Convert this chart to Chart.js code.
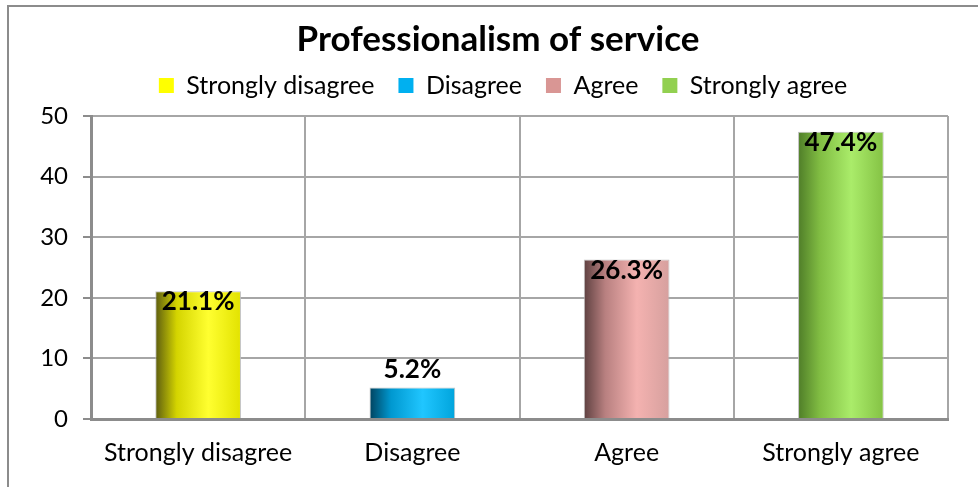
<!DOCTYPE html>
<html>
<head>
<meta charset="utf-8">
<script src="https://cdn.jsdelivr.net/npm/chart.js@4.4.1/dist/chart.umd.min.js"></script>
<style>
  html, body { margin: 0; padding: 0; background: #fff; }
  #wrap { width: 978px; height: 487px; position: relative; }
</style>
</head>
<body>
<div id="wrap"><canvas id="myChart"></canvas></div>
<script>
const categories = ['Strongly disagree', 'Disagree', 'Agree', 'Strongly agree'];
const values = [21.1, 5.2, 26.3, 47.4];
const valueLabels = ['21.1%', '5.2%', '26.3%', '47.4%'];
const yTicks = [0, 10, 20, 30, 40, 50];

// legend swatch colours, and the bar shading: dark left edge, mid, highlight, right edge
const legendColors = ['#ffff00', '#00b0f0', '#d99694', '#92d050'];
const shades = [
    ['#5c5c10', '#d4d400', '#ffff30', '#e2e200'],
    ['#00425e', '#0098d0', '#20c6ff', '#00a4dc'],
    ['#5e4040', '#b88080', '#f4b2b0', '#d6a09e'],
    ['#4f7d28', '#80bc42', '#aaec6a', '#84c244'],
];

const FONT = 'Lato, "Open Sans", sans-serif';

const barFill = (c) => {
    const chart = c.chart;
    const area = chart.chartArea;
    if (c.type !== 'data') return legendColors[0];
    if (!area || !chart.scales.x) return legendColors[c.dataIndex];
    const x = chart.scales.x.getPixelForValue(c.dataIndex);
    const half = (area.right - area.left) / categories.length * 0.4 / 2;
    const g = chart.ctx.createLinearGradient(x - half, 0, x + half, 0);
    const s = shades[c.dataIndex];
    g.addColorStop(0, s[0]);
    g.addColorStop(0.25, s[1]);
    g.addColorStop(0.62, s[2]);
    g.addColorStop(1, s[3]);
    return g;
};

const frame = {
    id: 'frame',
    beforeInit(chart) {
        // leave some room between the legend row and the plot
        const fit = chart.legend.fit;
        chart.legend.fit = function () {
            fit.bind(chart.legend)();
            this.height += 8;
        };
    },
    afterLayout(chart) {
        // title + legend are centred on the whole frame, not on the plot
        if (chart.titleBlock) chart.titleBlock.left += 48;
        if (chart.legend) chart.legend.left += 58;
    },
    beforeDraw(chart) {
        const ctx = chart.ctx;
        ctx.save();
        ctx.fillStyle = '#fff';
        ctx.fillRect(0, 0, chart.width, chart.height);
        ctx.strokeStyle = '#8c8c8c';
        ctx.lineWidth = 2;
        ctx.strokeRect(8, 6, chart.width + 20, chart.height + 20);
        ctx.restore();
    }
};

const valueTags = {
    id: 'valueTags',
    afterDatasetsDraw(chart) {
        const ctx = chart.ctx;
        const meta = chart.getDatasetMeta(0);
        ctx.save();
        ctx.font = 'bold 26px ' + FONT;
        ctx.fillStyle = '#000';
        ctx.textAlign = 'center';
        ctx.textBaseline = 'alphabetic';
        meta.data.forEach((bar, i) => {
            const h = bar.base - bar.y;
            const y = h < 40 ? bar.y - 9 : bar.y + 19;
            ctx.fillText(valueLabels[i], bar.x, y);
        });
        ctx.restore();
    }
};

const ctx = document.getElementById('myChart').getContext('2d');

const chart = new Chart(ctx, {
    type: 'bar',
    data: {
        labels: categories,
        datasets: [{
            label: 'Professionalism of service',
            data: values,
            backgroundColor: barFill,
            borderColor: 'rgba(190,190,190,0.9)',
            borderWidth: 1,
            barPercentage: 0.4,
            categoryPercentage: 1,
        }]
    },
    options: {
        responsive: true,
        maintainAspectRatio: false,
        animation: false,
        layout: { padding: { left: 0, right: 30, top: 0, bottom: 0 } },
        plugins: {
            title: {
                display: true,
                text: 'Professionalism of service',
                color: '#000',
                font: { family: FONT, size: 35, weight: 'bold' },
                padding: { top: 19, bottom: -12 },
            },
            legend: {
                display: true,
                labels: {
                    color: '#000',
                    font: { family: FONT, size: 25 },
                    boxWidth: 15,
                    boxHeight: 15,
                    padding: 24,
                    generateLabels: () => categories.map((c, i) => ({
                        text: c,
                        fillStyle: legendColors[i],
                        strokeStyle: legendColors[i],
                        lineWidth: 0,
                        hidden: false,
                        index: i,
                    })),
                },
                onClick: () => {},
            },
            tooltip: { enabled: false },
        },
        scales: {
            x: {
                afterFit: (scale) => { scale.height = 68; },
                grid: { color: '#a6a6a6', lineWidth: 2, offset: true, drawTicks: false },
                border: { color: '#8c8c8c', width: 3 },
                ticks: { color: '#000', font: { family: FONT, size: 25 }, padding: 19 },
            },
            y: {
                min: 0,
                max: 50,
                afterBuildTicks: (scale) => { scale.ticks = yTicks.map(v => ({ value: v })); },
                afterFit: (scale) => { scale.width = 91; },
                grid: { color: '#a6a6a6', lineWidth: 2, tickLength: 8, tickColor: '#8c8c8c' },
                border: { color: '#8c8c8c', width: 3 },
                ticks: { color: '#000', font: { family: FONT, size: 24 }, padding: 15 },
            }
        }
    },
    plugins: [frame, valueTags]
});
</script>
</body>
</html>
